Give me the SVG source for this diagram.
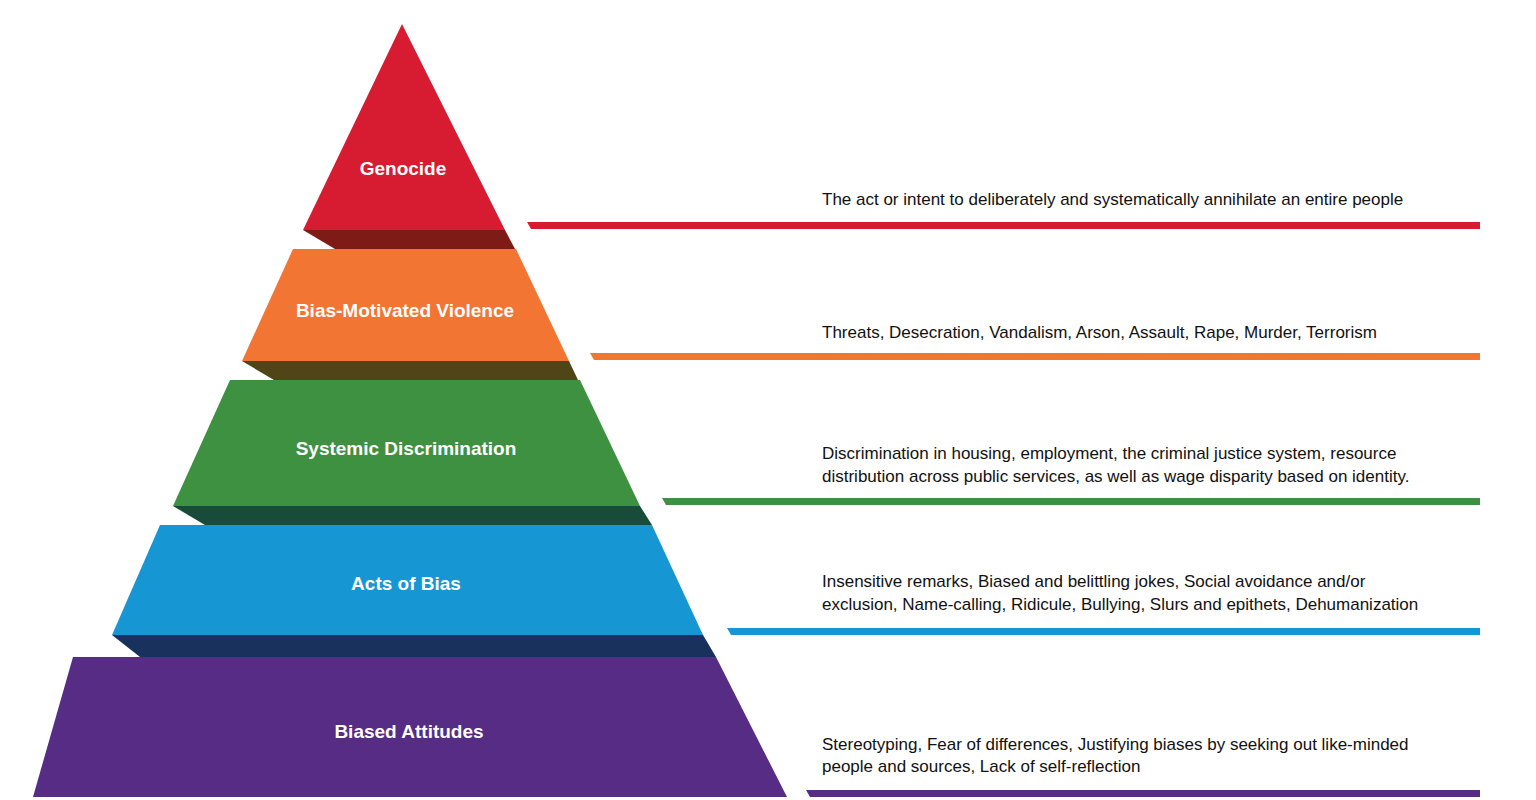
<svg xmlns="http://www.w3.org/2000/svg" width="1536" height="800" viewBox="0 0 1536 800">
<style>
.lbl{font-family:"Liberation Sans Narrow","Liberation Sans",Arial,sans-serif;font-weight:bold;font-size:19px;fill:#fff;text-anchor:middle}
.desc{font-family:"Liberation Sans Narrow","Liberation Sans",Arial,sans-serif;font-size:17px;fill:#111}
</style>
<rect width="1536" height="800" fill="#fff"/>
<g id="genocide">
<polygon points="402,24 505,230 303,230" fill="#d71c32"/>
<polygon points="303,230 505,230 515,249 335,249" fill="#7f1b17"/>
<text class="lbl" x="403" y="175">Genocide</text>
</g>
<g id="violence">
<polygon points="293,249 516,249 569,361 242,361" fill="#f27533"/>
<polygon points="242,361 569,361 578,380 274,380" fill="#4f4517"/>
<text class="lbl" x="405" y="317">Bias-Motivated Violence</text>
</g>
<g id="systemic">
<polygon points="230,380 580,380 640,506 173,506" fill="#3f9142"/>
<polygon points="173,506 640,506 652,525 205,525" fill="#184b3a"/>
<text class="lbl" x="406" y="455">Systemic Discrimination</text>
</g>
<g id="acts">
<polygon points="160,525 652,525 703,635 112,635" fill="#1696d2"/>
<polygon points="112,635 703,635 716,657 140,657" fill="#19325d"/>
<text class="lbl" x="406" y="590">Acts of Bias</text>
</g>
<g id="attitudes">
<polygon points="73,657 716,657 787,797 33,797" fill="#562c84"/>
<text class="lbl" x="409" y="738">Biased Attitudes</text>
</g>
<g id="connectors">
<polygon points="527,222 1480,222 1480,229 531,229" fill="#d71c32"/>
<polygon points="590,353 1480,353 1480,360 594,360" fill="#f27533"/>
<polygon points="662,498 1480,498 1480,505 666,505" fill="#3f9142"/>
<polygon points="727,628 1480,628 1480,635 731,635" fill="#1696d2"/>
<polygon points="806,790 1480,790 1480,797 810,797" fill="#562c84"/>
</g>
<g id="descriptions">
<text class="desc" x="822" y="205">The act or intent to deliberately and systematically annihilate an entire people</text>
<text class="desc" x="822" y="338">Threats, Desecration, Vandalism, Arson, Assault, Rape, Murder, Terrorism</text>
<text class="desc" x="822" y="459">Discrimination in housing, employment, the criminal justice system, resource</text>
<text class="desc" x="822" y="482">distribution across public services, as well as wage disparity based on identity.</text>
<text class="desc" x="822" y="587">Insensitive remarks, Biased and belittling jokes, Social avoidance and/or</text>
<text class="desc" x="822" y="610">exclusion, Name-calling, Ridicule, Bullying, Slurs and epithets, Dehumanization</text>
<text class="desc" x="822" y="750">Stereotyping, Fear of differences, Justifying biases by seeking out like-minded</text>
<text class="desc" x="822" y="772">people and sources, Lack of self-reflection</text>
</g>
</svg>
